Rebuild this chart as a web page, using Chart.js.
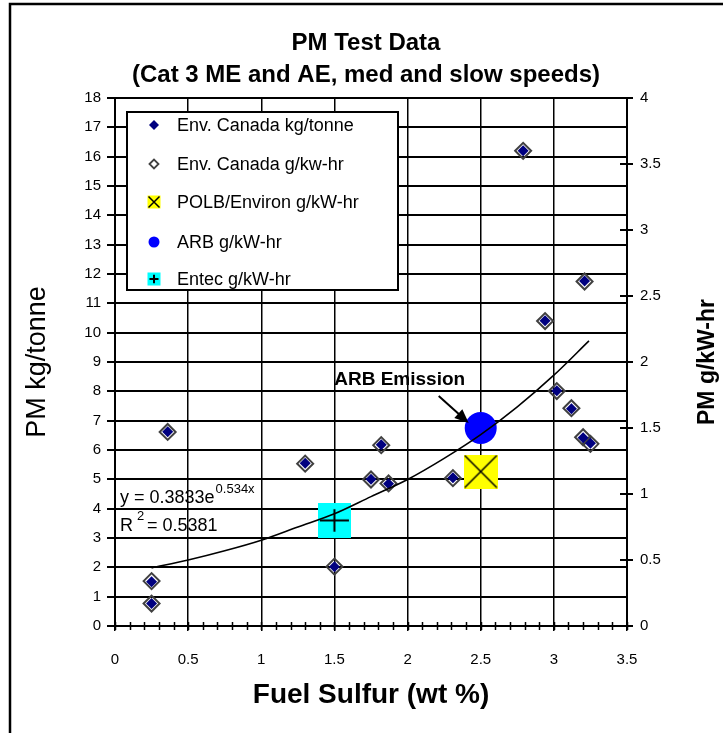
<!DOCTYPE html>
<html>
<head>
<meta charset="utf-8">
<script src="https://cdn.jsdelivr.net/npm/chart.js@4.4.0/dist/chart.umd.min.js"></script>
<style>
html, body { margin: 0; padding: 0; background: #fff; }
</style>
</head>
<body>
<canvas id="chart-pm" width="723" height="733"></canvas>
<script>
// values
const seriesNames = ['Env. Canada kg/tonne', 'Env. Canada g/kw-hr', 'POLB/Environ g/kW-hr', 'ARB g/kW-hr', 'Entec g/kW-hr'];
const sulfur = [0.25, 0.25, 0.36, 1.30, 1.50, 1.75, 1.82, 1.87, 2.31, 2.79, 2.94, 3.02, 3.12, 3.20, 3.21, 3.25];
const pmKgTonne = [0.77, 1.51, 6.62, 5.55, 2.02, 5.0, 6.18, 4.85, 5.05, 16.2, 10.41, 8.02, 7.41, 6.42, 11.76, 6.23];
const pmGkWhr = [0.17, 0.34, 1.47, 1.23, 0.45, 1.11, 1.37, 1.08, 1.12, 3.60, 2.31, 1.78, 1.65, 1.43, 2.61, 1.38];
const polbX = [2.5], polbY = [1.17];
const arbX = [2.5], arbY = [1.5];
const entecX = [1.5], entecY = [0.8];
// trend line (g/kW-hr)
const trendX = [0.25, 0.5, 0.75, 1.0, 1.25, 1.5, 1.75, 2.0, 2.25, 2.5, 2.75, 3.0, 3.24];
const trendY = [0.44, 0.50, 0.57, 0.65, 0.75, 0.85, 0.98, 1.11, 1.27, 1.45, 1.66, 1.90, 2.16];
const xTicksMinor = 0.1;

const FONT = "'Liberation Sans', Arial, sans-serif";
Chart.defaults.font.family = FONT;
Chart.defaults.color = '#000';

function toPts(xs, ys) {
	return xs.map((x, i) => ({ x: x, y: ys[i] }));
}

function plainLabel(value) {
	return String(Math.round(value * 10) / 10);
}

function drawPolb(ctx, cx, cy, s, lw) {
	ctx.fillStyle = '#ffff00';
	ctx.fillRect(cx - s / 2, cy - s / 2, s, s);
	ctx.strokeStyle = '#000';
	ctx.lineWidth = lw;
	ctx.beginPath();
	ctx.moveTo(cx - s / 2 + 1, cy - s / 2 + 1);
	ctx.lineTo(cx + s / 2 - 1, cy + s / 2 - 1);
	ctx.moveTo(cx + s / 2 - 1, cy - s / 2 + 1);
	ctx.lineTo(cx - s / 2 + 1, cy + s / 2 - 1);
	ctx.stroke();
}

function drawEntec(ctx, cx, cy, w, h, lw) {
	ctx.fillStyle = '#00ffff';
	ctx.fillRect(cx - w / 2, cy - h / 2, w, h);
	ctx.strokeStyle = '#000';
	ctx.lineWidth = lw;
	ctx.beginPath();
	ctx.moveTo(cx - w / 2 + 2, cy);
	ctx.lineTo(cx + w / 2 - 2, cy);
	ctx.moveTo(cx, cy - h * 0.32);
	ctx.lineTo(cx, cy + h * 0.32);
	ctx.stroke();
}

function drawDiamond(ctx, cx, cy, r, fill, stroke, lw) {
	ctx.beginPath();
	ctx.moveTo(cx - r, cy);
	ctx.lineTo(cx, cy - r);
	ctx.lineTo(cx + r, cy);
	ctx.lineTo(cx, cy + r);
	ctx.closePath();
	if (fill) { ctx.fillStyle = fill; ctx.fill(); }
	if (stroke) { ctx.strokeStyle = stroke; ctx.lineWidth = lw; ctx.stroke(); }
}

function makeMarker(w, h, fn) {
	const c = document.createElement('canvas');
	c.width = w; c.height = h;
	fn(c.getContext('2d'), w / 2, h / 2);
	return c;
}

const polbMarker = makeMarker(34, 34, (c, x, y) => drawPolb(c, x, y, 34, 1.5));
const entecMarker = makeMarker(33, 35, (c, x, y) => drawEntec(c, x, y, 33, 35, 2));

const framePlugin = {
	id: 'frame',
	beforeDraw(chart) {
		const ctx = chart.ctx;
		ctx.save();
		ctx.fillStyle = '#fff';
		ctx.fillRect(0, 0, chart.width, chart.height);
		ctx.strokeStyle = '#000';
		ctx.lineWidth = 2.5;
		ctx.beginPath();
		ctx.moveTo(10, chart.height + 5);
		ctx.lineTo(10, 4);
		ctx.lineTo(chart.width + 5, 4);
		ctx.stroke();
		ctx.fillStyle = '#000';
		ctx.textAlign = 'center';
		ctx.textBaseline = 'middle';
		ctx.font = 'bold 24px ' + FONT;
		ctx.fillText('PM Test Data', 366, 43);
		ctx.fillText('(Cat 3 ME and AE, med and slow speeds)', 366, 75);
		ctx.restore();
	}
};

const extrasPlugin = {
	id: 'extras',
	afterDraw(chart) {
		const ctx = chart.ctx;
		const xs = chart.scales.x, y2 = chart.scales.y2;
		const area = chart.chartArea;
		ctx.save();
		ctx.strokeStyle = '#000';
		ctx.lineWidth = 1.5;
		ctx.beginPath();
		// minor ticks across the x axis
		for (let i = 0; i <= Math.round(3.5 / xTicksMinor); i++) {
			const px = Math.round(xs.getPixelForValue(i * xTicksMinor)) + 0.5;
			ctx.moveTo(px, area.bottom - 4);
			ctx.lineTo(px, area.bottom + 4);
		}
		ctx.stroke();
		// inner part of the right axis ticks
		ctx.lineWidth = 2;
		ctx.beginPath();
		for (let v = 0; v <= 4; v += 0.5) {
			const py = Math.round(y2.getPixelForValue(v));
			ctx.moveTo(area.right - 7, py);
			ctx.lineTo(area.right, py);
		}
		ctx.stroke();

		// right axis title, reading bottom to top
		ctx.save();
		ctx.translate(708, (area.top + area.bottom) / 2);
		ctx.rotate(-Math.PI / 2);
		ctx.font = 'bold 23px ' + FONT;
		ctx.fillStyle = '#000';
		ctx.textAlign = 'center';
		ctx.textBaseline = 'middle';
		ctx.fillText('PM g/kW-hr', 0, 0);
		ctx.restore();

		/* legend */
		const lx = 127, ly = 112, lw = 271, lh = 178;
		ctx.fillStyle = '#fff';
		ctx.fillRect(lx, ly, lw, lh);
		ctx.lineWidth = 2;
		ctx.strokeStyle = '#000';
		ctx.strokeRect(lx, ly, lw, lh);
		const rows = [125, 164, 202, 242, 279];
		const mx = 154;
		drawDiamond(ctx, mx, rows[0], 5, '#000080');
		drawDiamond(ctx, mx, rows[1], 4.5, null, '#404040', 1.8);
		drawPolb(ctx, mx, rows[2], 13, 1.5);
		ctx.beginPath();
		ctx.arc(mx, rows[3], 5.5, 0, Math.PI * 2);
		ctx.fillStyle = '#0000ff';
		ctx.fill();
		drawEntec(ctx, mx, rows[4], 13, 13, 2);
		ctx.save();
		ctx.beginPath();
		ctx.rect(lx, ly, lw, lh - 1);
		ctx.clip();
		ctx.fillStyle = '#000';
		ctx.font = '18px ' + FONT;
		ctx.textAlign = 'left';
		ctx.textBaseline = 'middle';
		seriesNames.forEach((name, i) => ctx.fillText(name, 177, rows[i] + 1));
		ctx.restore();

		// ARB Emission callout
		const ax = xs.getPixelForValue(arbX[0]), ay = y2.getPixelForValue(arbY[0]);
		ctx.fillStyle = '#000';
		ctx.font = 'bold 19px ' + FONT;
		ctx.textAlign = 'center';
		ctx.textBaseline = 'middle';
		ctx.fillText('ARB Emission', ax - 81, ay - 48);
		const sx = ax - 42, sy = ay - 32, tx = ax - 12, ty = ay - 5;
		const ang = Math.atan2(ty - sy, tx - sx);
		ctx.lineWidth = 2;
		ctx.beginPath();
		ctx.moveTo(sx, sy);
		ctx.lineTo(tx - 10 * Math.cos(ang), ty - 10 * Math.sin(ang));
		ctx.stroke();
		ctx.beginPath();
		ctx.moveTo(tx, ty);
		ctx.lineTo(tx - 14 * Math.cos(ang) + 6 * Math.sin(ang), ty - 14 * Math.sin(ang) - 6 * Math.cos(ang));
		ctx.lineTo(tx - 14 * Math.cos(ang) - 6 * Math.sin(ang), ty - 14 * Math.sin(ang) + 6 * Math.cos(ang));
		ctx.closePath();
		ctx.fill();

		// trend line equation
		const ex = area.left + 5;
		ctx.textAlign = 'left';
		ctx.textBaseline = 'middle';
		ctx.font = '18px ' + FONT;
		ctx.fillText('y = 0.3833e', ex, 498);
		const w1 = ctx.measureText('y = 0.3833e').width;
		ctx.fillText('R', ex, 526);
		const wR = ctx.measureText('R').width;
		ctx.font = '13px ' + FONT;
		ctx.fillText('0.534x', ex + w1 + 1, 489);
		ctx.fillText('2', ex + wR + 4, 516);
		ctx.font = '18px ' + FONT;
		ctx.fillText('= 0.5381', ex + wR + 14, 526);
		ctx.restore();
	}
};

const ctx = document.getElementById('chart-pm').getContext('2d');
window.chartPM = new Chart(ctx, {
	type: 'scatter',
	data: {
		datasets: [
			{
				label: seriesNames[0],
				data: toPts(sulfur, pmKgTonne),
				yAxisID: 'y',
				pointStyle: 'rectRot',
				pointRadius: 5.5,
				backgroundColor: '#000080',
				borderColor: '#000080',
				borderWidth: 0,
				order: 2
			},
			{
				label: seriesNames[1],
				data: toPts(sulfur, pmGkWhr),
				yAxisID: 'y2',
				pointStyle: 'rectRot',
				pointRadius: 8,
				backgroundColor: 'rgba(0,0,0,0)',
				borderColor: '#404040',
				borderWidth: 2,
				order: 3
			},
			{
				label: seriesNames[2],
				data: toPts(polbX, polbY),
				yAxisID: 'y2',
				pointStyle: polbMarker,
				order: 1
			},
			{
				label: seriesNames[3],
				data: toPts(arbX, arbY),
				yAxisID: 'y2',
				pointStyle: 'circle',
				pointRadius: 16,
				backgroundColor: '#0000ff',
				borderWidth: 0,
				order: 1
			},
			{
				label: seriesNames[4],
				data: toPts(entecX, entecY),
				yAxisID: 'y2',
				pointStyle: entecMarker,
				order: 1
			},
			{
				label: 'Expon. trend',
				data: toPts(trendX, trendY),
				yAxisID: 'y2',
				showLine: true,
				pointRadius: 0,
				borderColor: '#000',
				borderWidth: 1.6,
				cubicInterpolationMode: 'monotone',
				order: 0
			}
		]
	},
	options: {
		responsive: false,
		animation: false,
		layout: { padding: { top: 98, left: 0, right: 0, bottom: 0 } },
		plugins: {
			legend: { display: false },
			tooltip: { enabled: false },
			title: { display: false }
		},
		scales: {
			x: {
				type: 'linear',
				min: 0,
				max: 3.5,
				ticks: { stepSize: 0.5, padding: 20, font: { size: 15 }, color: '#000', callback: plainLabel },
				grid: { color: '#000', lineWidth: 1.5, tickLength: 5 },
				border: { color: '#000', width: 2 },
				title: {
					display: true,
					text: 'Fuel Sulfur (wt %)',
					font: { size: 28, weight: 'bold' },
					color: '#000',
					padding: { top: 0, bottom: 21 }
				},
				afterFit: function(scale) { scale.height = 107; }
			},
			y: {
				type: 'linear',
				position: 'left',
				min: 0,
				max: 18,
				ticks: { stepSize: 1, padding: 6, font: { size: 15 }, color: '#000', callback: plainLabel },
				grid: { color: '#000', lineWidth: 2, tickLength: 8 },
				border: { color: '#000', width: 2 },
				title: {
					display: true,
					text: 'PM kg/tonne',
					font: { size: 27 },
					color: '#000',
					padding: { top: 21, bottom: 0 }
				},
				afterFit: function(scale) { scale.width = 115; }
			},
			y2: {
				type: 'linear',
				position: 'right',
				min: 0,
				max: 4,
				ticks: { stepSize: 0.5, padding: 7, font: { size: 15 }, color: '#000', callback: plainLabel },
				grid: { drawOnChartArea: false, color: '#000', lineWidth: 2, tickLength: 6 },
				border: { color: '#000', width: 2 },
				afterFit: function(scale) { scale.width = 96; }
			}
		}
	},
	plugins: [framePlugin, extrasPlugin]
});
</script>
</body>
</html>
